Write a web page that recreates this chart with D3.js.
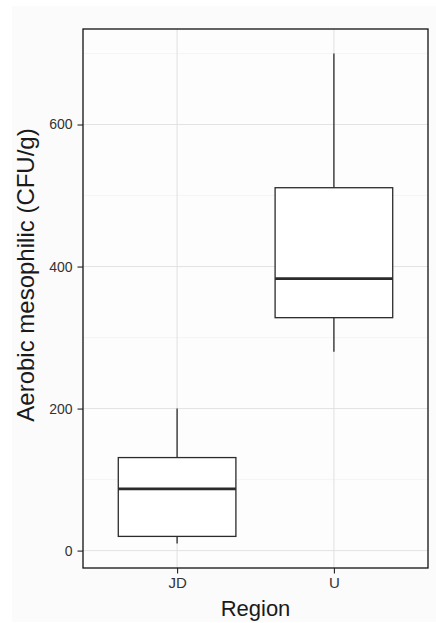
<!DOCTYPE html>
<html>
<head>
<meta charset="utf-8">
<script src="https://cdn.jsdelivr.net/npm/d3@7/dist/d3.min.js"></script>
<style>
html,body{margin:0;padding:0;background:#ffffff;}
svg{display:block;}
text{font-family:"Liberation Sans", Arial, Helvetica, sans-serif;}
</style>
</head>
<body>
<svg id="chart" width="436" height="623"></svg>
<script>
// Data
const categories = ["JD", "U"];
const whiskerLow  = [10, 280];
const q1          = [20, 328];
const medians     = [87, 383];
const q3          = [131, 511];
const whiskerHigh = [200, 700];
const yTicks = [0, 200, 400, 600];
const yMinorTicks = [100, 300, 500, 700];
const xTitle = "Region";
const yTitle = "Aerobic mesophilic (CFU/g)";

const boxes = categories.map((c, i) => ({
  cat: c, lo: whiskerLow[i], q1: q1[i], med: medians[i], q3: q3[i], hi: whiskerHigh[i]
}));

const W = 436, H = 623;
const panel = {left: 83, top: 29, right: 428, bottom: 568};

const svg = d3.select("#chart");

// outer plot background
svg.append("rect").attr("x", 12).attr("y", 6).attr("width", W - 12).attr("height", 616)
  .attr("fill", "#fbfbfb");

const dataMin = d3.min(whiskerLow), dataMax = d3.max(whiskerHigh);
const pad = (dataMax - dataMin) * 0.05;
const y = d3.scaleLinear().domain([dataMin - pad, dataMax + pad]).range([panel.bottom, panel.top]);

// discrete x positions following ggplot expansion (0.6 each side)
const xc = d3.scaleLinear().domain([0.4, categories.length + 0.6]).range([panel.left, panel.right]);
const cx = c => xc(categories.indexOf(c) + 1);
const bw = xc(1.75) - xc(1);

// panel background
svg.append("rect").attr("x", panel.left).attr("y", panel.top)
  .attr("width", panel.right - panel.left).attr("height", panel.bottom - panel.top)
  .attr("fill", "#fdfdfd");

// grid minor
svg.append("g").selectAll("line").data(yMinorTicks).join("line")
  .attr("x1", panel.left).attr("x2", panel.right)
  .attr("y1", d => y(d)).attr("y2", d => y(d))
  .attr("stroke", "#f2f2f2").attr("stroke-width", 0.8);
// grid major
svg.append("g").selectAll("line").data(yTicks).join("line")
  .attr("x1", panel.left).attr("x2", panel.right)
  .attr("y1", d => y(d)).attr("y2", d => y(d))
  .attr("stroke", "#e3e3e3").attr("stroke-width", 1);
svg.append("g").selectAll("line").data(categories).join("line")
  .attr("x1", d => cx(d)).attr("x2", d => cx(d))
  .attr("y1", panel.top).attr("y2", panel.bottom)
  .attr("stroke", "#e0e0e0").attr("stroke-width", 1);

// boxes
const g = svg.append("g");
boxes.forEach(b => {
  const c = cx(b.cat);
  g.append("line").attr("x1", c).attr("x2", c).attr("y1", y(b.q3)).attr("y2", y(b.hi))
    .attr("stroke", "#2b2b2b").attr("stroke-width", 1.3);
  g.append("line").attr("x1", c).attr("x2", c).attr("y1", y(b.q1)).attr("y2", y(b.lo))
    .attr("stroke", "#2b2b2b").attr("stroke-width", 1.3);
  g.append("rect").attr("x", c - bw / 2).attr("y", y(b.q3))
    .attr("width", bw).attr("height", y(b.q1) - y(b.q3))
    .attr("fill", "#ffffff").attr("stroke", "#2b2b2b").attr("stroke-width", 1.3);
  g.append("line").attr("x1", c - bw / 2).attr("x2", c + bw / 2)
    .attr("y1", y(b.med)).attr("y2", y(b.med))
    .attr("stroke", "#2b2b2b").attr("stroke-width", 2.8);
});

// panel border
svg.append("rect").attr("x", panel.left).attr("y", panel.top)
  .attr("width", panel.right - panel.left).attr("height", panel.bottom - panel.top)
  .attr("fill", "none").attr("stroke", "#111").attr("stroke-width", 1.3);

// y axis
const yAxis = d3.axisLeft(y).tickValues(yTicks).tickSize(5.5).tickPadding(5).tickFormat(d3.format("d"));
const ya = svg.append("g").attr("transform", `translate(${panel.left},0)`).call(yAxis);
ya.select(".domain").remove();
ya.selectAll(".tick line").attr("stroke", "#222").attr("stroke-width", 1.1);
ya.selectAll(".tick text").attr("fill", "#333").attr("font-size", 14)
  .style("font-family", "'Liberation Sans', Arial, sans-serif");

// x axis
const xScalePoint = d3.scalePoint().domain(categories).range([cx(categories[0]), cx(categories[categories.length - 1])]);
const xAxis = d3.axisBottom(xScalePoint).tickSize(5.5).tickPadding(4);
const xa = svg.append("g").attr("transform", `translate(0,${panel.bottom})`).call(xAxis);
xa.select(".domain").remove();
xa.selectAll(".tick line").attr("stroke", "#222").attr("stroke-width", 1.1);
xa.selectAll(".tick text").attr("fill", "#333").attr("font-size", 15)
  .style("font-family", "'Liberation Sans', Arial, sans-serif");

// titles
svg.append("text").attr("x", (panel.left + panel.right) / 2).attr("y", 616)
  .attr("text-anchor", "middle").attr("font-size", 22).attr("fill", "#1a1a1a").text(xTitle);
svg.append("text").attr("transform", `translate(34,275) rotate(-90)`)
  .attr("text-anchor", "middle").attr("font-size", 24).attr("fill", "#1a1a1a").text(yTitle);
</script>
</body>
</html>
